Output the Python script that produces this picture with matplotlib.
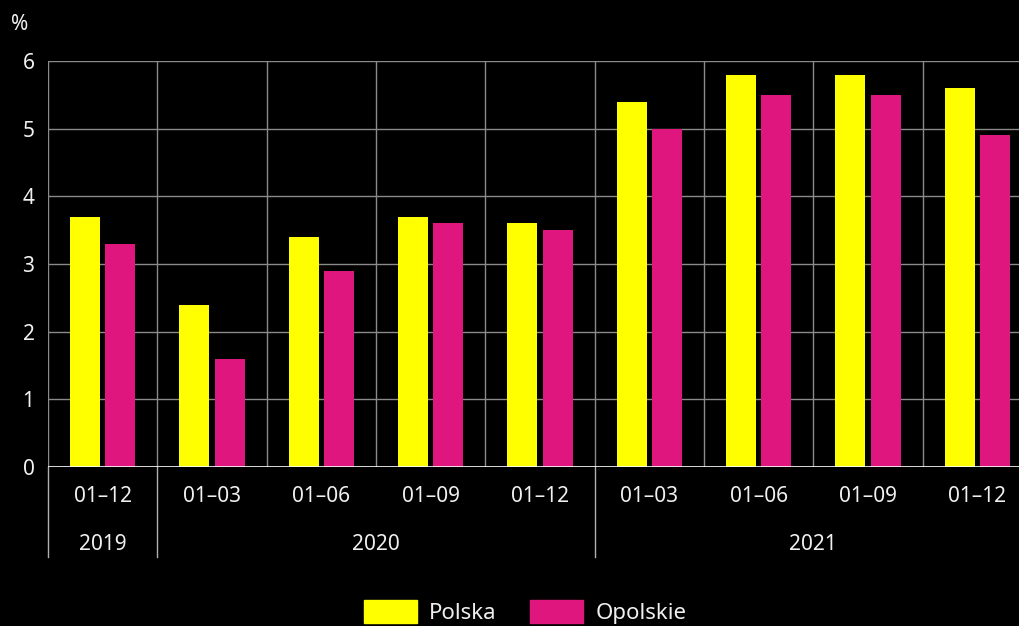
import numpy as np
import matplotlib.pyplot as plt
from matplotlib.patches import Patch
from matplotlib.transforms import blended_transform_factory

# dane
okresy = ['01–12', '01–03', '01–06', '01–09', '01–12', '01–03', '01–06', '01–09', '01–12']
lata = ['2019', '2020', '2021']
lata_zakres = [(0, 0), (1, 4), (5, 8)]
polska = [3.7, 2.4, 3.4, 3.7, 3.6, 5.4, 5.8, 5.8, 5.6]
opolskie = [3.3, 1.6, 2.9, 3.6, 3.5, 5.0, 5.5, 5.5, 4.9]

c_pl = '#ffff00'
c_op = '#e0167f'
c_txt = '#f0f0f0'
c_grid = '#8a8a8a'

plt.rcParams['font.family'] = ['Noto Sans', 'DejaVu Sans']

fig = plt.figure(figsize=(10.19, 6.26), dpi=100, facecolor='black')
ax = fig.add_axes([48 / 1019, (626 - 467) / 626, 984 / 1019, 406 / 626])
ax.set_facecolor('black')

x = np.arange(len(okresy))
w = 30 / 109.3
off = 17.5 / 109.3
ax.bar(x - off, polska, w, color=c_pl, zorder=3)
ax.bar(x + off, opolskie, w, color=c_op, zorder=3)

ax.set_xlim(-0.5, len(okresy) - 0.5)
ax.set_ylim(0, 6)
for s in ax.spines.values():
    s.set_visible(False)
ax.set_xticks([])
ax.set_yticks(range(7))
ax.tick_params(axis='y', length=0, labelsize=15, labelcolor=c_txt, pad=14)
for lab in ax.get_yticklabels():
    lab.set_horizontalalignment('center')

for v in range(1, 7):
    ax.axhline(v, color=c_grid, lw=1, zorder=1)
ax.axhline(0, color='white', lw=1.2, zorder=4)

tr = blended_transform_factory(ax.transData, ax.transAxes)
y_low = (467 - 557) / 406
starts = [a for a, b in lata_zakres]
for k in range(len(okresy)):
    ax.axvline(k - 0.5, color=c_grid, lw=1, zorder=1)
for a in starts:
    ax.plot([a - 0.5, a - 0.5], [0, y_low], transform=tr, color='#b0b0b0',
            lw=1, clip_on=False)

for k, lab in enumerate(okresy):
    ax.text(k, (467 - 497) / 406, lab, transform=tr, ha='center', va='center',
            color=c_txt, fontsize=15)
for rok, (a, b) in zip(lata, lata_zakres):
    ax.text((a + b) / 2, (467 - 545) / 406, rok, transform=tr, ha='center',
            va='center', color=c_txt, fontsize=15)

fig.text(20 / 1019, 1 - 25 / 626, '%', ha='center', va='center', color=c_txt, fontsize=15)

handles = [Patch(color=c_pl, label='Polska'), Patch(color=c_op, label='Opolskie')]
fig.legend(handles=handles, loc='center', bbox_to_anchor=(525 / 1019, 1 - 612 / 626),
           ncol=2, frameon=False, fontsize=16, labelcolor=c_txt,
           handlelength=2.4, handleheight=1.2, handletextpad=0.55, columnspacing=1.5)

fig.savefig('out.png', dpi=100, facecolor='black')
